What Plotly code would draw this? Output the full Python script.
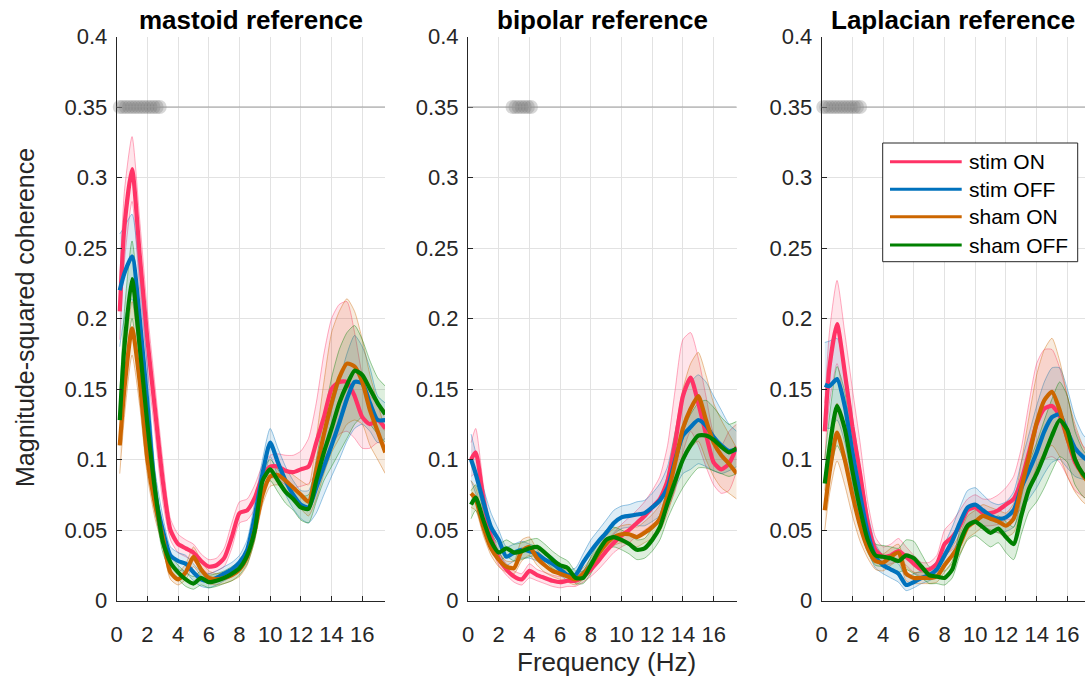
import plotly.graph_objects as go

# ---------------- data ----------------
freq = [0.2, 0.5, 1.0, 1.5, 2.0, 2.5, 3.0, 3.5, 4.0, 4.5, 5.0, 5.5, 6.0, 6.5, 7.0, 7.5, 8.0, 8.5,
        9.0, 9.5, 10.0, 10.5, 11.0, 11.5, 12.0, 12.5, 13.0, 13.5, 14.0, 14.5, 15.0, 15.5, 16.0, 16.5, 17.0, 17.5]

panel_titles = ["mastoid reference", "bipolar reference", "Laplacian reference"]
series_names = ["stim ON", "stim OFF", "sham ON", "sham OFF"]
series_colors = ["#FF3366", "#0072BD", "#CC6600", "#008000"]

# mastoid reference
mas_stim_on = [0.205, 0.265, 0.306, 0.245, 0.185, 0.135, 0.085, 0.05, 0.04, 0.037, 0.034, 0.028, 0.024, 0.025, 0.03, 0.045, 0.062, 0.064,
               0.073, 0.088, 0.095, 0.095, 0.092, 0.091, 0.093, 0.095, 0.112, 0.13, 0.15, 0.155, 0.155, 0.145, 0.13, 0.125, 0.128, 0.122]
mas_stim_on_hi = [0.225, 0.29, 0.329, 0.27, 0.205, 0.152, 0.1, 0.058, 0.047, 0.043, 0.04, 0.033, 0.029, 0.03, 0.037, 0.055, 0.07, 0.072,
                  0.082, 0.096, 0.103, 0.104, 0.103, 0.103, 0.106, 0.115, 0.14, 0.175, 0.2, 0.21, 0.212, 0.19, 0.16, 0.145, 0.14, 0.135]
mas_stim_on_lo = [0.185, 0.24, 0.283, 0.22, 0.165, 0.118, 0.07, 0.043, 0.034, 0.031, 0.028, 0.023, 0.019, 0.021, 0.024, 0.037, 0.055, 0.057,
                  0.065, 0.08, 0.087, 0.086, 0.082, 0.08, 0.081, 0.083, 0.09, 0.1, 0.11, 0.118, 0.12, 0.115, 0.108, 0.108, 0.112, 0.11]
mas_stim_off = [0.22, 0.232, 0.244, 0.2, 0.14, 0.077, 0.05, 0.032, 0.028, 0.026, 0.02, 0.015, 0.014, 0.016, 0.019, 0.022, 0.027, 0.036,
                0.06, 0.09, 0.112, 0.098, 0.085, 0.075, 0.068, 0.066, 0.08, 0.095, 0.11, 0.126, 0.143, 0.155, 0.154, 0.14, 0.128, 0.128]
mas_stim_off_hi = [0.26, 0.265, 0.274, 0.23, 0.165, 0.092, 0.06, 0.038, 0.034, 0.032, 0.026, 0.02, 0.019, 0.021, 0.024, 0.027, 0.032, 0.043,
                   0.07, 0.1, 0.122, 0.108, 0.095, 0.085, 0.078, 0.078, 0.095, 0.115, 0.135, 0.155, 0.175, 0.188, 0.18, 0.165, 0.145, 0.14]
mas_stim_off_lo = [0.18, 0.2, 0.214, 0.17, 0.115, 0.062, 0.04, 0.026, 0.022, 0.02, 0.014, 0.01, 0.009, 0.011, 0.014, 0.017, 0.022, 0.029,
                   0.05, 0.08, 0.102, 0.088, 0.075, 0.065, 0.058, 0.055, 0.062, 0.075, 0.088, 0.1, 0.113, 0.122, 0.125, 0.12, 0.112, 0.115]
mas_sham_on = [0.11, 0.15, 0.193, 0.155, 0.1, 0.068, 0.045, 0.02, 0.015, 0.02, 0.031, 0.022, 0.016, 0.015, 0.016, 0.018, 0.022, 0.031,
               0.05, 0.075, 0.088, 0.089, 0.085, 0.08, 0.075, 0.07, 0.092, 0.118, 0.14, 0.158, 0.168, 0.166, 0.155, 0.135, 0.12, 0.105]
mas_sham_on_hi = [0.13, 0.17, 0.212, 0.172, 0.112, 0.078, 0.052, 0.025, 0.02, 0.026, 0.038, 0.028, 0.021, 0.019, 0.02, 0.023, 0.027, 0.037,
                  0.057, 0.082, 0.095, 0.096, 0.093, 0.089, 0.085, 0.082, 0.115, 0.155, 0.19, 0.205, 0.214, 0.205, 0.185, 0.16, 0.14, 0.12]
mas_sham_on_lo = [0.09, 0.13, 0.174, 0.138, 0.088, 0.058, 0.038, 0.015, 0.011, 0.015, 0.024, 0.017, 0.012, 0.011, 0.012, 0.014, 0.017, 0.025,
                  0.043, 0.068, 0.081, 0.082, 0.077, 0.071, 0.065, 0.06, 0.072, 0.09, 0.105, 0.115, 0.125, 0.128, 0.125, 0.11, 0.1, 0.09]
mas_sham_off = [0.128, 0.18, 0.228, 0.18, 0.125, 0.078, 0.042, 0.027, 0.02, 0.015, 0.012, 0.016, 0.013, 0.014, 0.016, 0.019, 0.023, 0.032,
                0.05, 0.085, 0.093, 0.085, 0.077, 0.072, 0.066, 0.065, 0.085, 0.105, 0.122, 0.14, 0.153, 0.163, 0.16, 0.15, 0.14, 0.132]
mas_sham_off_hi = [0.145, 0.205, 0.255, 0.205, 0.142, 0.09, 0.05, 0.033, 0.025, 0.02, 0.017, 0.021, 0.018, 0.019, 0.021, 0.024, 0.028, 0.038,
                   0.057, 0.092, 0.1, 0.093, 0.085, 0.08, 0.074, 0.075, 0.1, 0.13, 0.158, 0.178, 0.19, 0.195, 0.185, 0.17, 0.158, 0.152]
mas_sham_off_lo = [0.11, 0.155, 0.2, 0.155, 0.105, 0.065, 0.034, 0.021, 0.015, 0.01, 0.008, 0.011, 0.009, 0.01, 0.012, 0.014, 0.018, 0.026,
                   0.043, 0.077, 0.085, 0.077, 0.069, 0.064, 0.057, 0.055, 0.07, 0.085, 0.095, 0.105, 0.115, 0.125, 0.13, 0.125, 0.118, 0.112]

# bipolar reference
bip_stim_on = [0.1, 0.105, 0.072, 0.045, 0.03, 0.022, 0.017, 0.015, 0.021, 0.018, 0.016, 0.014, 0.013, 0.014, 0.014, 0.017, 0.022, 0.028,
               0.035, 0.041, 0.046, 0.05, 0.055, 0.06, 0.066, 0.072, 0.085, 0.112, 0.145, 0.158, 0.14, 0.118, 0.098, 0.093, 0.097, 0.109]
bip_stim_on_hi = [0.112, 0.122, 0.082, 0.052, 0.035, 0.026, 0.021, 0.019, 0.026, 0.022, 0.02, 0.018, 0.017, 0.018, 0.018, 0.021, 0.027, 0.034,
                  0.042, 0.048, 0.054, 0.059, 0.064, 0.07, 0.078, 0.088, 0.11, 0.15, 0.185, 0.19, 0.172, 0.145, 0.118, 0.11, 0.12, 0.125]
bip_stim_on_lo = [0.088, 0.09, 0.062, 0.038, 0.025, 0.018, 0.013, 0.011, 0.016, 0.014, 0.012, 0.01, 0.009, 0.01, 0.01, 0.013, 0.017, 0.022,
                  0.028, 0.034, 0.038, 0.041, 0.046, 0.05, 0.054, 0.058, 0.065, 0.078, 0.105, 0.12, 0.11, 0.095, 0.082, 0.076, 0.078, 0.092]
bip_stim_off = [0.1, 0.09, 0.07, 0.052, 0.043, 0.031, 0.034, 0.036, 0.035, 0.033, 0.029, 0.026, 0.022, 0.018, 0.018, 0.027, 0.035, 0.042,
                0.048, 0.055, 0.059, 0.06, 0.061, 0.062, 0.066, 0.071, 0.08, 0.1, 0.117, 0.123, 0.128, 0.124, 0.116, 0.11, 0.106, 0.107]
bip_stim_off_hi = [0.118, 0.105, 0.08, 0.062, 0.05, 0.038, 0.04, 0.042, 0.04, 0.038, 0.034, 0.031, 0.026, 0.022, 0.023, 0.033, 0.043, 0.05,
                   0.057, 0.064, 0.067, 0.068, 0.07, 0.071, 0.076, 0.083, 0.095, 0.12, 0.145, 0.155, 0.16, 0.155, 0.145, 0.135, 0.125, 0.12]
bip_stim_off_lo = [0.085, 0.076, 0.06, 0.044, 0.035, 0.025, 0.028, 0.03, 0.03, 0.028, 0.024, 0.021, 0.018, 0.014, 0.014, 0.021, 0.028, 0.034,
                   0.04, 0.047, 0.051, 0.052, 0.053, 0.053, 0.056, 0.06, 0.066, 0.08, 0.09, 0.093, 0.097, 0.095, 0.092, 0.09, 0.092, 0.095]
bip_sham_on = [0.076, 0.072, 0.052, 0.037, 0.029, 0.024, 0.023, 0.035, 0.038, 0.03, 0.025, 0.021, 0.019, 0.017, 0.015, 0.019, 0.025, 0.033,
               0.04, 0.045, 0.047, 0.047, 0.045, 0.048, 0.052, 0.058, 0.075, 0.098, 0.122, 0.136, 0.145, 0.128, 0.112, 0.103, 0.097, 0.09]
bip_sham_on_hi = [0.085, 0.08, 0.058, 0.042, 0.034, 0.028, 0.028, 0.043, 0.045, 0.036, 0.03, 0.025, 0.023, 0.021, 0.019, 0.023, 0.03, 0.038,
                  0.046, 0.051, 0.053, 0.054, 0.052, 0.056, 0.061, 0.068, 0.09, 0.12, 0.15, 0.168, 0.176, 0.16, 0.14, 0.128, 0.118, 0.108]
bip_sham_on_lo = [0.066, 0.064, 0.046, 0.032, 0.024, 0.02, 0.019, 0.028, 0.032, 0.025, 0.02, 0.017, 0.015, 0.013, 0.011, 0.015, 0.02, 0.028,
                  0.034, 0.039, 0.041, 0.04, 0.038, 0.041, 0.044, 0.049, 0.062, 0.08, 0.098, 0.108, 0.113, 0.1, 0.088, 0.08, 0.076, 0.072]
bip_sham_off = [0.068, 0.073, 0.057, 0.042, 0.034, 0.037, 0.034, 0.035, 0.037, 0.038, 0.034, 0.029, 0.025, 0.023, 0.016, 0.016, 0.025, 0.035,
                0.043, 0.045, 0.043, 0.04, 0.036, 0.037, 0.043, 0.052, 0.069, 0.085, 0.1, 0.11, 0.117, 0.117, 0.114, 0.109, 0.105, 0.108]
bip_sham_off_hi = [0.078, 0.082, 0.064, 0.048, 0.04, 0.043, 0.04, 0.041, 0.043, 0.044, 0.04, 0.035, 0.031, 0.028, 0.021, 0.021, 0.031, 0.041,
                   0.05, 0.052, 0.05, 0.047, 0.043, 0.044, 0.051, 0.061, 0.08, 0.1, 0.12, 0.132, 0.14, 0.142, 0.137, 0.13, 0.125, 0.127]
bip_sham_off_lo = [0.058, 0.064, 0.05, 0.036, 0.028, 0.031, 0.028, 0.029, 0.031, 0.032, 0.028, 0.023, 0.019, 0.018, 0.012, 0.012, 0.019, 0.029,
                   0.036, 0.038, 0.036, 0.033, 0.029, 0.03, 0.035, 0.043, 0.058, 0.07, 0.08, 0.088, 0.094, 0.094, 0.092, 0.09, 0.088, 0.09]

# Laplacian reference
lap_stim_on = [0.12, 0.165, 0.196, 0.162, 0.123, 0.09, 0.055, 0.036, 0.031, 0.032, 0.035, 0.031, 0.026, 0.022, 0.022, 0.026, 0.04, 0.045,
               0.053, 0.064, 0.066, 0.062, 0.062, 0.064, 0.068, 0.072, 0.085, 0.105, 0.125, 0.136, 0.138, 0.131, 0.115, 0.098, 0.09, 0.085]
lap_stim_on_hi = [0.14, 0.19, 0.227, 0.19, 0.15, 0.112, 0.07, 0.045, 0.038, 0.04, 0.044, 0.038, 0.032, 0.027, 0.027, 0.032, 0.05, 0.056,
                  0.064, 0.072, 0.075, 0.072, 0.072, 0.075, 0.08, 0.088, 0.108, 0.14, 0.168, 0.178, 0.178, 0.165, 0.145, 0.122, 0.11, 0.105]
lap_stim_on_lo = [0.1, 0.14, 0.168, 0.135, 0.1, 0.07, 0.042, 0.028, 0.025, 0.026, 0.028, 0.025, 0.02, 0.017, 0.017, 0.02, 0.032, 0.036,
                  0.043, 0.055, 0.057, 0.053, 0.053, 0.054, 0.057, 0.058, 0.066, 0.078, 0.092, 0.1, 0.102, 0.098, 0.088, 0.078, 0.074, 0.07]
lap_stim_off = [0.153, 0.152, 0.157, 0.138, 0.105, 0.075, 0.048, 0.031, 0.025, 0.022, 0.019, 0.011, 0.013, 0.016, 0.018, 0.022, 0.032, 0.042,
                0.055, 0.066, 0.068, 0.064, 0.06, 0.058, 0.059, 0.064, 0.08, 0.092, 0.105, 0.12, 0.13, 0.132, 0.12, 0.108, 0.102, 0.098]
lap_stim_off_hi = [0.183, 0.184, 0.186, 0.165, 0.13, 0.095, 0.062, 0.04, 0.032, 0.029, 0.026, 0.017, 0.019, 0.021, 0.023, 0.028, 0.04, 0.052,
                   0.066, 0.078, 0.08, 0.075, 0.07, 0.068, 0.07, 0.077, 0.098, 0.118, 0.138, 0.155, 0.165, 0.165, 0.15, 0.13, 0.118, 0.112]
lap_stim_off_lo = [0.123, 0.122, 0.128, 0.112, 0.083, 0.058, 0.036, 0.023, 0.019, 0.016, 0.013, 0.007, 0.009, 0.012, 0.014, 0.017, 0.025, 0.033,
                   0.045, 0.055, 0.057, 0.053, 0.05, 0.048, 0.049, 0.052, 0.064, 0.072, 0.08, 0.09, 0.098, 0.1, 0.094, 0.088, 0.086, 0.085]
lap_sham_on = [0.064, 0.09, 0.119, 0.1, 0.075, 0.053, 0.037, 0.028, 0.027, 0.031, 0.034, 0.019, 0.016, 0.016, 0.016, 0.017, 0.025, 0.032,
               0.04, 0.052, 0.056, 0.06, 0.058, 0.056, 0.053, 0.058, 0.08, 0.102, 0.126, 0.142, 0.148, 0.135, 0.115, 0.1, 0.089, 0.082]
lap_sham_on_hi = [0.078, 0.11, 0.14, 0.12, 0.09, 0.065, 0.045, 0.034, 0.033, 0.037, 0.04, 0.024, 0.02, 0.02, 0.02, 0.021, 0.03, 0.038,
                  0.047, 0.06, 0.064, 0.068, 0.066, 0.064, 0.062, 0.069, 0.098, 0.13, 0.16, 0.178, 0.186, 0.17, 0.145, 0.125, 0.11, 0.1]
lap_sham_on_lo = [0.05, 0.075, 0.099, 0.082, 0.06, 0.042, 0.03, 0.022, 0.021, 0.025, 0.028, 0.014, 0.012, 0.012, 0.012, 0.013, 0.02, 0.026,
                  0.033, 0.044, 0.048, 0.052, 0.05, 0.048, 0.045, 0.048, 0.064, 0.078, 0.095, 0.105, 0.11, 0.102, 0.088, 0.077, 0.07, 0.066]
lap_sham_off = [0.083, 0.108, 0.138, 0.122, 0.092, 0.065, 0.043, 0.032, 0.031, 0.03, 0.028, 0.032, 0.03, 0.024, 0.018, 0.017, 0.016, 0.022,
                0.041, 0.053, 0.056, 0.052, 0.048, 0.051, 0.045, 0.04, 0.06, 0.079, 0.09, 0.103, 0.117, 0.128, 0.121, 0.1, 0.09, 0.084]
lap_sham_off_hi = [0.1, 0.13, 0.166, 0.148, 0.112, 0.08, 0.053, 0.04, 0.039, 0.038, 0.037, 0.043, 0.042, 0.033, 0.024, 0.022, 0.021, 0.028,
                   0.05, 0.064, 0.066, 0.062, 0.058, 0.06, 0.056, 0.052, 0.073, 0.097, 0.112, 0.128, 0.143, 0.155, 0.145, 0.12, 0.107, 0.1]
lap_sham_off_lo = [0.066, 0.088, 0.11, 0.097, 0.073, 0.051, 0.034, 0.025, 0.024, 0.023, 0.02, 0.022, 0.019, 0.016, 0.012, 0.012, 0.011, 0.016,
                   0.032, 0.043, 0.046, 0.042, 0.038, 0.041, 0.034, 0.029, 0.047, 0.063, 0.07, 0.08, 0.092, 0.102, 0.098, 0.082, 0.074, 0.07]

# significant-frequency markers (drawn at y = 0.35)
sig_level = 0.35
mas_sig = [0.2, 0.4, 0.6, 0.8, 1.0, 1.2, 1.4, 1.6, 1.8, 2.0, 2.2, 2.4, 2.6, 2.8]
bip_sig = [2.9, 3.1, 3.3, 3.5, 3.7, 3.9, 4.1]
lap_sig = [0.1, 0.3, 0.5, 0.7, 0.9, 1.1, 1.3, 1.5, 1.7, 1.9, 2.1, 2.3, 2.5]

x_ticks = [0, 2, 4, 6, 8, 10, 12, 14, 16]
y_ticks = [0, 0.05, 0.1, 0.15, 0.2, 0.25, 0.3, 0.35, 0.4]
y_tick_labels = ["0", "0.05", "0.1", "0.15", "0.2", "0.25", "0.3", "0.35", "0.4"]

panels = [
    dict(means=[mas_stim_on, mas_stim_off, mas_sham_on, mas_sham_off],
         his=[mas_stim_on_hi, mas_stim_off_hi, mas_sham_on_hi, mas_sham_off_hi],
         los=[mas_stim_on_lo, mas_stim_off_lo, mas_sham_on_lo, mas_sham_off_lo],
         sig=mas_sig),
    dict(means=[bip_stim_on, bip_stim_off, bip_sham_on, bip_sham_off],
         his=[bip_stim_on_hi, bip_stim_off_hi, bip_sham_on_hi, bip_sham_off_hi],
         los=[bip_stim_on_lo, bip_stim_off_lo, bip_sham_on_lo, bip_sham_off_lo],
         sig=bip_sig),
    dict(means=[lap_stim_on, lap_stim_off, lap_sham_on, lap_sham_off],
         his=[lap_stim_on_hi, lap_stim_off_hi, lap_sham_on_hi, lap_sham_off_hi],
         los=[lap_stim_on_lo, lap_stim_off_lo, lap_sham_on_lo, lap_sham_off_lo],
         sig=lap_sig),
]

# ---------------- layout geometry ----------------
W, H = 1085, 679
FONT = "Liberation Sans, Arial, Helvetica, sans-serif"
TXT = "#262626"


def px(xp):
    return xp / W


def py(yp):
    return 1 - yp / H


x_domains = [[116.7, 385.0], [468.0, 736.5], [821.7, 1085.0]]
x_ranges = [[0, 17.48], [0, 17.49], [0, 17.15]]
y_domain = [py(600.5), py(36.5)]


def rgba(hexcol, a):
    h = hexcol.lstrip("#")
    r, g, b = int(h[0:2], 16), int(h[2:4], 16), int(h[4:6], 16)
    return f"rgba({r},{g},{b},{a})"


fig = go.Figure()

for i, p in enumerate(panels):
    xa = "x" if i == 0 else f"x{i + 1}"
    ya = "y" if i == 0 else f"y{i + 1}"
    # confidence bands
    for k in range(4):
        col = series_colors[k]
        fig.add_trace(go.Scatter(
            x=freq + freq[::-1], y=p["his"][k] + p["los"][k][::-1],
            fill="toself", fillcolor=rgba(col, 0.13), line=dict(width=0, shape="spline", smoothing=0.6),
            mode="lines", hoverinfo="skip", showlegend=False, xaxis=xa, yaxis=ya))
        for edge in (p["his"][k], p["los"][k]):
            fig.add_trace(go.Scatter(
                x=freq, y=edge, mode="lines",
                line=dict(color=rgba(col, 0.4), width=1, shape="spline", smoothing=0.6),
                hoverinfo="skip", showlegend=False, xaxis=xa, yaxis=ya))
    # mean lines
    for k in range(4):
        fig.add_trace(go.Scatter(
            x=freq, y=p["means"][k], mode="lines", name=series_names[k],
            line=dict(color=series_colors[k], width=4.2, shape="spline", smoothing=0.6),
            showlegend=False, xaxis=xa, yaxis=ya))
    # significance dots
    fig.add_trace(go.Scatter(
        x=p["sig"], y=[sig_level] * len(p["sig"]), mode="markers",
        marker=dict(size=14, color="rgba(110,110,110,0.28)", line=dict(width=0)),
        cliponaxis=False, hoverinfo="skip", showlegend=False, xaxis=xa, yaxis=ya))

axis_common = dict(
    ticks="inside", ticklen=5, tickwidth=1, tickcolor=TXT,
    showline=True, linecolor=TXT, linewidth=1, automargin=False,
    showgrid=True, gridcolor="#e2e2e2", gridwidth=1, zeroline=False,
    tickfont=dict(family=FONT, size=22, color=TXT),
)

layout_axes = {}
shapes = []
annotations = []
for i in range(3):
    xk = "xaxis" if i == 0 else f"xaxis{i + 1}"
    yk = "yaxis" if i == 0 else f"yaxis{i + 1}"
    xa = "x" if i == 0 else f"x{i + 1}"
    ya = "y" if i == 0 else f"y{i + 1}"
    layout_axes[xk] = dict(axis_common, domain=[px(x_domains[i][0]), px(x_domains[i][1])],
                           range=x_ranges[i], tickvals=x_ticks, anchor=ya, ticklabelstandoff=14)
    layout_axes[yk] = dict(axis_common, domain=y_domain, range=[0, 0.4], tickvals=y_ticks,
                           ticktext=y_tick_labels, anchor=xa, ticklabelstandoff=4)
    shapes.append(dict(type="line", xref=f"{xa} domain", yref=ya, x0=0, x1=1, y0=sig_level, y1=sig_level,
                       line=dict(color="#9c9c9c", width=1), layer="above"))
    annotations.append(dict(text=f"<b>{panel_titles[i]}</b>", xref="paper", yref="paper",
                            x=px((x_domains[i][0] + min(x_domains[i][1], x_domains[i][0] + 268.3)) / 2),
                            y=py(20), xanchor="center", yanchor="middle", showarrow=False,
                            font=dict(family=FONT, size=26, color="#000000")))

annotations.append(dict(text="Magnitude-squared coherence", xref="paper", yref="paper", x=px(25), y=py(318),
                        textangle=-90, xanchor="center", yanchor="middle", showarrow=False,
                        font=dict(family=FONT, size=25, color=TXT)))
annotations.append(dict(text="Frequency (Hz)", xref="paper", yref="paper", x=px(606), y=py(662),
                        xanchor="center", yanchor="middle", showarrow=False,
                        font=dict(family=FONT, size=26, color=TXT)))

# manual legend in the Laplacian panel
leg_x0, leg_x1, leg_y0, leg_y1 = 882.7, 1077.7, 143.0, 261.7
shapes.append(dict(type="rect", xref="paper", yref="paper", x0=px(leg_x0), x1=px(leg_x1), y0=py(leg_y1), y1=py(leg_y0),
                   line=dict(color="#262626", width=1), fillcolor="white", layer="above"))
leg_rows = [161.7, 189.3, 216.7, 245.0]
for k in range(4):
    shapes.append(dict(type="line", xref="paper", yref="paper", x0=px(890), x1=px(961.7), y0=py(leg_rows[k]),
                       y1=py(leg_rows[k]), line=dict(color=series_colors[k], width=3), layer="above"))
    annotations.append(dict(text=series_names[k], xref="paper", yref="paper", x=px(967), y=py(leg_rows[k]),
                            xanchor="left", yanchor="middle", showarrow=False,
                            font=dict(family=FONT, size=21, color="#000000")))

fig.update_layout(
    width=W, height=H, margin=dict(l=0, r=0, t=0, b=0, autoexpand=False),
    paper_bgcolor="white", plot_bgcolor="white", showlegend=False,
    shapes=shapes, annotations=annotations, **layout_axes,
)

fig.write_html("out.html", config={"displayModeBar": False},
               post_script="document.body.style.margin='0';document.body.style.padding='0';"
                           "document.body.style.overflow='hidden';")
